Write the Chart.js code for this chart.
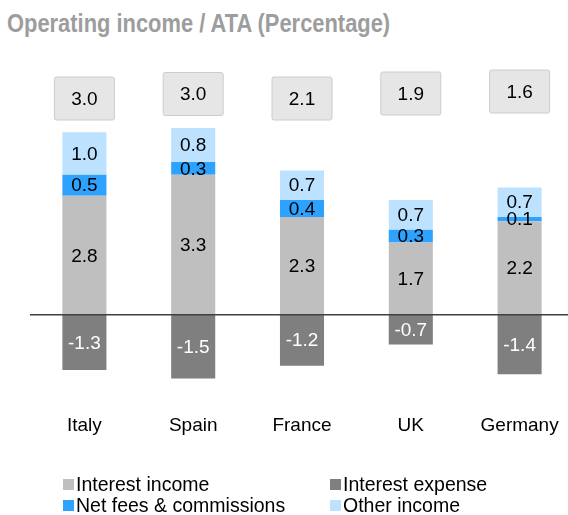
<!DOCTYPE html>
<html>
<head>
<meta charset="utf-8">
<script src="https://cdn.jsdelivr.net/npm/chart.js@4.4.1/dist/chart.umd.min.js"></script>
<style>
  html, body { margin: 0; padding: 0; background: #fff; overflow: hidden; }
  #wrap { position: relative; width: 568px; height: 515px; overflow: hidden; }
  #title {
    position: absolute; left: 7px; top: 8px; white-space: nowrap;
    font-family: 'Liberation Sans', Arial, sans-serif; font-weight: bold;
    font-size: 21.9px; line-height: normal; color: #9d9d9d;
    transform: scaleY(1.18); transform-origin: 0 0;
  }
  canvas { position: absolute; left: 0; top: 0; }
</style>
</head>
<body>
<div id="wrap">
  <div id="title">Operating income / ATA (Percentage)</div>
  <canvas id="chart" width="574" height="515"></canvas>
</div>
<script>
const countries = ['Italy', 'Spain', 'France', 'UK', 'Germany'];
const interestIncome = [2.8, 3.3, 2.3, 1.7, 2.2];
const netFees = [0.5, 0.3, 0.4, 0.3, 0.1];
const otherIncome = [1.0, 0.8, 0.7, 0.7, 0.7];
const interestExpense = [-1.3, -1.5, -1.2, -0.7, -1.4];
const totals = [3.0, 3.0, 2.1, 1.9, 1.6];

const FONT = "'Liberation Sans', Arial, sans-serif";

// zero line, value labels, total boxes and the two-column legend
const extras = {
    id: 'extras',
    afterDatasetsDraw(chart) {
        const ctx = chart.ctx;
        const area = chart.chartArea;
        const y0 = chart.scales.y.getPixelForValue(0);

        ctx.save();
        ctx.strokeStyle = '#404040';
        ctx.lineWidth = 1.5;
        ctx.beginPath();
        ctx.moveTo(area.left, y0);
        ctx.lineTo(area.right, y0);
        ctx.stroke();

        ctx.font = '19px ' + FONT;
        ctx.textAlign = 'center';
        ctx.textBaseline = 'middle';
        chart.data.datasets.forEach((ds, i) => {
            const meta = chart.getDatasetMeta(i);
            ctx.fillStyle = ds.labelColor;
            meta.data.forEach((bar, j) => {
                ctx.fillText(ds.data[j].toFixed(1), bar.x, (bar.y + bar.base) / 2 + 1);
            });
        });

        // total boxes above each bar
        const boxOffsets = [4, 8.5, 4, 9, 11];
        const bars = chart.getDatasetMeta(0).data;
        totals.forEach((t, j) => {
            const cx = bars[j].x;
            const cy = area.top - boxOffsets[j];
            ctx.fillStyle = '#e6e6e6';
            ctx.strokeStyle = '#cccccc';
            ctx.lineWidth = 1;
            ctx.beginPath();
            ctx.roundRect(cx - 30, cy - 21.5, 60, 43, 2);
            ctx.fill();
            ctx.stroke();
            ctx.fillStyle = '#000';
            ctx.fillText(t.toFixed(1), cx, cy + 1);
        });

        // legend
        const order = [0, 3, 1, 2];
        const cols = [63, 330];
        const rows = [485, 506];
        ctx.font = '19.5px ' + FONT;
        ctx.textAlign = 'left';
        ctx.textBaseline = 'alphabetic';
        order.forEach((di, k) => {
            const ds = chart.data.datasets[di];
            const x = cols[k % 2];
            const y = rows[Math.floor(k / 2)];
            ctx.fillStyle = ds.backgroundColor;
            ctx.fillRect(x, y - 6, 11, 11);
            ctx.fillStyle = '#000';
            ctx.fillText(ds.label, x + 13, y + 6);
        });
        ctx.restore();
    }
};

new Chart(document.getElementById('chart'), {
    type: 'bar',
    data: {
        labels: countries,
        datasets: [
            { label: 'Interest income', data: interestIncome, backgroundColor: '#bfbfbf', labelColor: '#000' },
            { label: 'Net fees & commissions', data: netFees, backgroundColor: '#2ea2ff', labelColor: '#000' },
            { label: 'Other income', data: otherIncome, backgroundColor: '#bde2ff', labelColor: '#000' },
            { label: 'Interest expense', data: interestExpense, backgroundColor: '#7f7f7f', labelColor: '#fff' }
        ]
    },
    options: {
        responsive: false,
        animation: false,
        layout: { padding: { top: 102.5, left: 30, right: 0, bottom: 63.6 } },
        datasets: {
            bar: { categoryPercentage: 1, barPercentage: 0.405 }
        },
        plugins: {
            legend: { display: false },
            tooltip: { enabled: false }
        },
        scales: {
            x: {
                stacked: true,
                grid: { display: false, drawTicks: false },
                border: { display: false },
                ticks: { color: '#000', padding: 14.5, font: { family: FONT, size: 19 } }
            },
            y: {
                stacked: true,
                display: false,
                min: -2,
                max: 5
            }
        }
    },
    plugins: [extras]
});
</script>
</body>
</html>
